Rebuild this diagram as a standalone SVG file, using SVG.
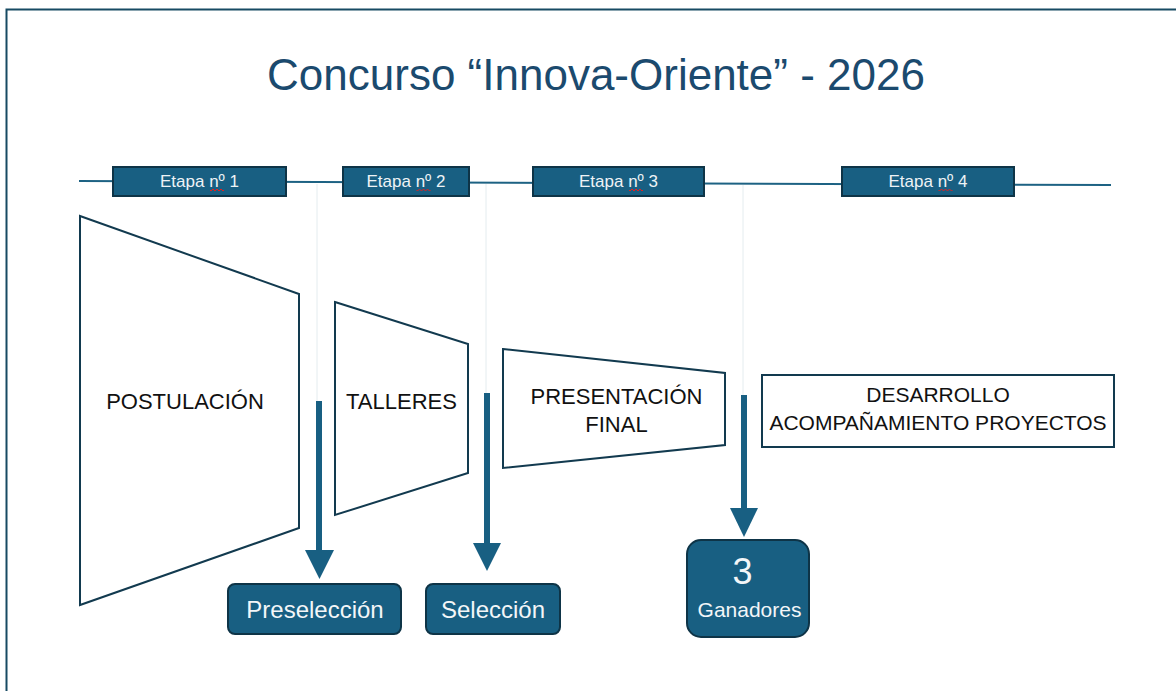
<svg xmlns="http://www.w3.org/2000/svg" width="1176" height="691" viewBox="0 0 1176 691">
<defs>
<style>
.stage{fill:#185f82;stroke:#0e3447;stroke-width:2}
.stxt{font-family:"Liberation Sans",Arial,sans-serif;font-size:17px;fill:#eef3f6;text-anchor:middle}
.shape{fill:#fff;stroke:#123a4f;stroke-width:2}
.ltxt{font-family:"Liberation Sans",Arial,sans-serif;font-size:22px;fill:#111;text-anchor:middle}
.dtxt{font-family:"Liberation Sans",Arial,sans-serif;font-size:21px;fill:#111;text-anchor:middle}
.res{fill:#185f82;stroke:#0e3447;stroke-width:2}
.rtxt{font-family:"Liberation Sans",Arial,sans-serif;fill:#f3f6f8;text-anchor:middle}
.guide{stroke:#e4ecef;stroke-width:1}
.shaft{stroke:#185f82;stroke-width:6}
.head{fill:#185f82}
.squig{fill:none;stroke:#d22;stroke-width:1}
</style>
</defs>
<rect width="1176" height="691" fill="#fff"/>
<rect x="6.5" y="9.5" width="1200" height="720" fill="none" stroke="#174a63" stroke-width="2"/>
<text x="596" y="90" font-family="'Liberation Sans',Arial,sans-serif" font-size="44" fill="#1b4a6e" text-anchor="middle">Concurso “Innova-Oriente” - 2026</text>

<g id="connectors">
<line x1="79" y1="181" x2="1111" y2="185" stroke="#1d6283" stroke-width="2"/>
<line class="guide" x1="317" y1="184" x2="317" y2="401"/>
<line class="guide" x1="486" y1="184" x2="486" y2="393"/>
<line class="guide" x1="743" y1="185" x2="743" y2="395"/>
<line class="shaft" x1="319" y1="401" x2="319" y2="551"/>
<polygon class="head" points="305,550 334,550 319.5,579"/>
<line class="shaft" x1="487" y1="393" x2="487" y2="544"/>
<polygon class="head" points="473,543 501,543 487,571"/>
<line class="shaft" x1="744" y1="395" x2="744" y2="509"/>
<polygon class="head" points="730,508 758,508 744,537"/>
</g>

<g id="etapa1">
<rect class="stage" x="113" y="167" width="173" height="29"/>
<text class="stxt" x="199.5" y="187">Etapa nº 1</text>
<path class="squig" d="M210,190 q1,2 2,0 t2,0 t2,0 t2,0 t2,0 t2,0 t2,0"/>
</g>
<g id="etapa2">
<rect class="stage" x="343" y="167" width="126" height="29"/>
<text class="stxt" x="406" y="187">Etapa nº 2</text>
<path class="squig" d="M416.5,190 q1,2 2,0 t2,0 t2,0 t2,0 t2,0 t2,0 t2,0"/>
</g>
<g id="etapa3">
<rect class="stage" x="533" y="167" width="171" height="29"/>
<text class="stxt" x="618.5" y="187">Etapa nº 3</text>
<path class="squig" d="M629,190 q1,2 2,0 t2,0 t2,0 t2,0 t2,0 t2,0 t2,0"/>
</g>
<g id="etapa4">
<rect class="stage" x="842" y="167" width="172" height="29"/>
<text class="stxt" x="928" y="187">Etapa nº 4</text>
<path class="squig" d="M938.5,190 q1,2 2,0 t2,0 t2,0 t2,0 t2,0 t2,0 t2,0"/>
</g>

<g id="postulacion">
<polygon class="shape" points="80,216 299,294 299,528 80,605"/>
<text class="ltxt" x="185" y="409">POSTULACIÓN</text>
</g>
<g id="talleres">
<polygon class="shape" points="335,302 468,344 468,473 335,515"/>
<text class="ltxt" x="401.5" y="409">TALLERES</text>
</g>
<g id="presentacion">
<polygon class="shape" points="503,349 725,373 725,445 503,468"/>
<text class="ltxt" x="616.5" y="404">PRESENTACIÓN</text>
<text class="ltxt" x="616.5" y="432">FINAL</text>
</g>
<g id="desarrollo">
<rect class="shape" x="762" y="375" width="352" height="72"/>
<text class="dtxt" x="938" y="402">DESARROLLO</text>
<text class="dtxt" x="938" y="430">ACOMPAÑAMIENTO PROYECTOS</text>
</g>

<g id="preseleccion">
<rect class="res" x="228" y="584" width="173" height="50" rx="7"/>
<text class="rtxt" x="315" y="618" font-size="24">Preselección</text>
</g>
<g id="seleccion">
<rect class="res" x="426" y="584" width="134" height="50" rx="7"/>
<text class="rtxt" x="493" y="618" font-size="24">Selección</text>
</g>
<g id="ganadores">
<rect class="res" x="687" y="540" width="122" height="97" rx="14"/>
<text class="rtxt" x="742.5" y="584" font-size="36">3</text>
<text class="rtxt" x="749.5" y="617" font-size="21">Ganadores</text>
</g>
</svg>
